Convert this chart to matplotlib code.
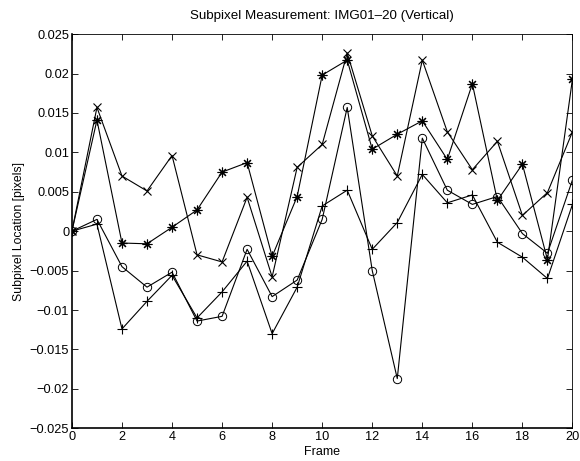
import matplotlib
matplotlib.use("Agg")
import matplotlib.pyplot as plt
from matplotlib.ticker import FuncFormatter

frames = list(range(21))
circle_vals = [0, 0.0015, -0.0045, -0.0071, -0.0052, -0.0114, -0.0108, -0.0023, -0.0083, -0.0062,
               0.0015, 0.0157, -0.0050, -0.0187, 0.0118, 0.0052, 0.0034, 0.0044, -0.0003, -0.0028, 0.0065]
plus_vals = [0, 0.0009, -0.0124, -0.0089, -0.0056, -0.0110, -0.0077, -0.0038, -0.0130, -0.0071,
             0.0032, 0.0052, -0.0023, 0.0011, 0.0072, 0.0036, 0.0046, -0.0014, -0.0033, -0.0060, 0.0034]
cross_vals = [0, 0.0157, 0.0070, 0.0051, 0.0096, -0.0030, -0.0039, 0.0043, -0.0058, 0.0081,
              0.0110, 0.0226, 0.0121, 0.0070, 0.0217, 0.0126, 0.0078, 0.0114, 0.0020, 0.0049, 0.0126]
star_vals = [0, 0.0141, -0.0015, -0.0016, 0.0005, 0.0027, 0.0075, 0.0087, -0.0032, 0.0044,
             0.0198, 0.0217, 0.0104, 0.0123, 0.0140, 0.0091, 0.0187, 0.0039, 0.0085, -0.0036, 0.0193]

title = "Subpixel Measurement: IMG01\u201320 (Vertical)"
xlabel = "Frame"
ylabel = "Subpixel Location [pixels]"
xticks = list(range(0, 21, 2))
yticks = [-0.025, -0.02, -0.015, -0.01, -0.005, 0, 0.005, 0.01, 0.015, 0.02, 0.025]

plt.rcParams['font.family'] = ['Liberation Sans', 'DejaVu Sans']
plt.rcParams['font.size'] = 9

fig = plt.figure(figsize=(5.8, 4.61), dpi=100)
ax = fig.add_axes([0.124, 0.071, 0.863, 0.855])

lw = 0.8
ax.plot(frames, circle_vals, color='black', lw=lw, marker='o', ms=6, mfc='none', mec='black', mew=0.7)
ax.plot(frames, plus_vals, color='black', lw=lw, marker='+', ms=7, mec='black', mew=0.8)
ax.plot(frames, cross_vals, color='black', lw=lw, marker='x', ms=6, mec='black', mew=0.8)
ax.plot(frames, star_vals, color='black', lw=lw, marker=(8, 2, 0), ms=7, mec='black', mew=0.8)

ax.set_xlim(0, 20)
ax.set_ylim(-0.025, 0.025)
ax.set_xticks(xticks)
ax.set_yticks(yticks)

def fmt(v, pos):
    s = "0" if abs(v) < 1e-12 else ("%g" % v)
    return s.replace('-', '\u2212')

ax.yaxis.set_major_formatter(FuncFormatter(fmt))
ax.tick_params(direction='in', top=True, right=True, length=4, width=0.6, labelsize=9.2, pad=2)
for s in ax.spines.values():
    s.set_linewidth(0.6)
ax.spines['left'].set_linewidth(1.2)
ax.spines['bottom'].set_linewidth(1.2)

ax.set_title(title, fontsize=9.6, pad=11)
ax.set_xlabel(xlabel, fontsize=9, labelpad=2)
ax.set_ylabel(ylabel, fontsize=8.8, labelpad=3)

fig.savefig("out.png", dpi=100)
